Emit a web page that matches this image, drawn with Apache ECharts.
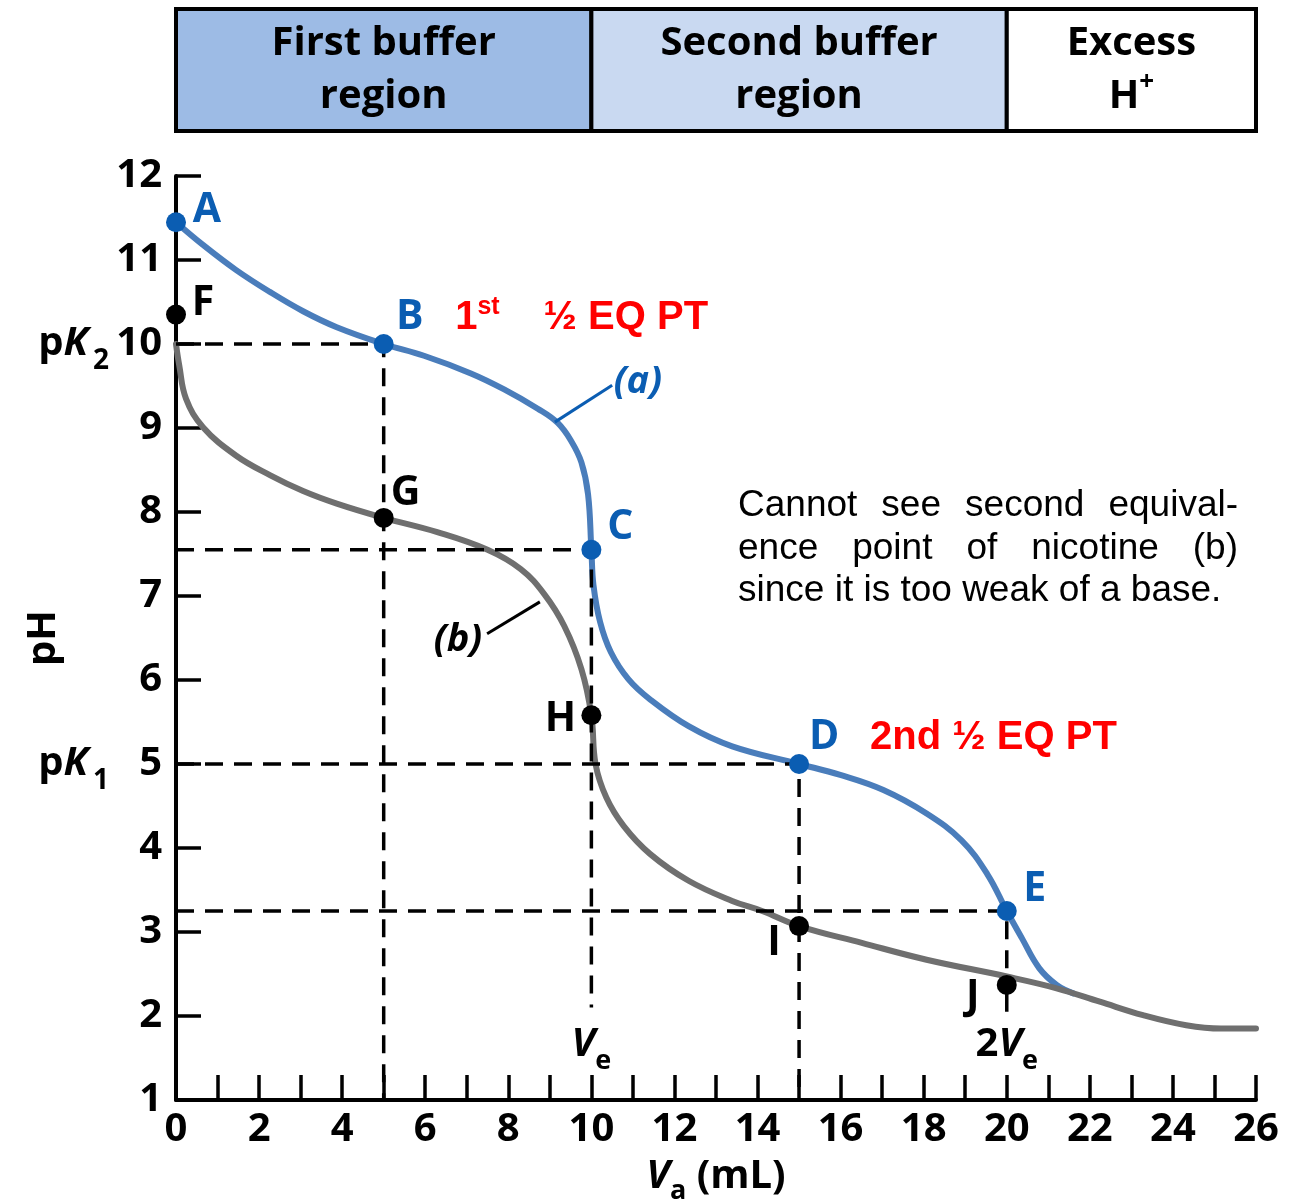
<!DOCTYPE html>
<html><head><meta charset="utf-8">
<script src="https://cdn.jsdelivr.net/npm/echarts@6/dist/echarts.min.js"></script>
<style>html,body{margin:0;padding:0;background:#fff}#c{width:1309px;height:1202px}</style>
</head><body><div id="c"></div>
<script>
// ---------------- DATA ----------------
// curve (a): blue
const volA = [0, 0.65, 1.45, 2.26, 3.06, 3.87, 5, 5.97, 7.1, 7.9, 8.71, 9.19, 9.52, 9.76, 9.92, 10, 10.05, 10.21, 10.47, 10.89, 11.41, 12.34, 13.39, 15, 15.99, 17.03, 18.07, 18.91, 19.53, 20, 20.36, 20.78, 21.2, 21.6];
const phA  = [11.45, 11.18, 10.88, 10.62, 10.39, 10.2, 10.0, 9.86, 9.65, 9.46, 9.23, 9.06, 8.84, 8.59, 8.21, 7.55, 7.13, 6.69, 6.33, 6.01, 5.77, 5.45, 5.21, 5.0, 4.87, 4.69, 4.41, 4.09, 3.69, 3.25, 2.93, 2.57, 2.37, 2.27];
// curve (b): gray (nicotine)
const volB = [0, 0.08, 0.24, 0.65, 1.45, 2.26, 3.06, 3.87, 5, 6.29, 7.5, 8.3, 8.87, 9.35, 9.76, 10, 10.1, 10.36, 10.78, 11.41, 12.34, 13.39, 14.11, 15, 16.51, 18.07, 20, 21.2, 22.24, 23.28, 24.32, 25.16, 26];
const phB  = [10.0, 9.74, 9.35, 9.01, 8.67, 8.44, 8.25, 8.1, 7.93, 7.76, 7.55, 7.32, 7.02, 6.64, 6.13, 5.58, 5.0, 4.6, 4.26, 3.93, 3.61, 3.37, 3.25, 3.07, 2.87, 2.67, 2.47, 2.33, 2.17, 2.01, 1.89, 1.85, 1.85];
// labelled points
const bluePointNames = ['A', 'B', 'C', 'D', 'E'];
const bluePointVol = [0, 5, 10, 15, 20];
const bluePointPh = [11.45, 10, 7.55, 5, 3.25];
const blackPointNames = ['F', 'G', 'H', 'I', 'J'];
const blackPointVol = [0, 5, 10, 15, 20];
const blackPointPh = [10.35, 7.93, 5.58, 3.07, 2.37];
// lower end of the vertical dashed guide dropped from each blue point B..E
const guideFrom = ['B', 'C', 'D', 'E'];
const guideBottom = [1, 2.1, 1, 2.37];
const stubTop = 2.37, stubBottom = 2.05;   // short solid tick under J at 2Ve
// ticks
const xTickLabels = [0, 2, 4, 6, 8, 10, 12, 14, 16, 18, 20, 22, 24, 26];
const yTickLabels = [1, 2, 3, 4, 5, 6, 7, 8, 9, 10, 11, 12];
// header regions
const regionStart = [0, 10, 20];
const regionEnd = [10, 20, 26];
const regionLabels = ['First buffer\nregion', 'Second buffer\nregion', 'Excess\n{t|H}{sup|+}'];
const regionColors = ['#9dbbe5', '#c9d9f1', '#ffffff'];
// annotation texts (data coordinates)
const annoText = ['{r|1}{sup|st}{r2|½ EQ PT}', '{r|2nd ½ EQ PT}', '{v|V}{sub|e}', '{n|2}{v|V}{sub|e}', '{a|(a)}', '{b|(b)}'];
const annoVol = [6.72, 16.71, 10, 20, 11.12, 6.79];
const annoPh = [10.31, 5.31, 1.66, 1.66, 9.54, 6.48];
const annoAlign = ['left', 'left', 'center', 'center', 'center', 'center'];
const leaderA = [[9.12, 9.07], [10.5, 9.51]];
const leaderB = [[8.76, 6.93], [7.49, 6.55]];
const noteLines = [['Cannot', 'see', 'second', 'equival-'], ['ence', 'point', 'of', 'nicotine', '(b)'], ['since it is too weak of a base.']];

// ---------------- STYLE ----------------
const FONT = '"Open Sans", "Noto Sans", sans-serif';
const ARIAL = '"Liberation Sans", Arial, sans-serif';
const BLUE_LINE = '#4a7dbb', BLUE_PT = '#0b5db2', GRAY = '#6f6f6f';
const labelOffset = {A: [31, -12], B: [26, -27], C: [29, -22], D: [25, -27], E: [28, -22],
                     F: [27, -11], G: [22, -25], H: [-31, 4], I: [-25, 17], J: [-34, 12]};

const chart = echarts.init(document.getElementById('c'), null, {renderer: 'canvas'});

function pointSeries(names, xs, ys, color) {
  return {
    type: 'scatter', z: 10, symbol: 'circle', symbolSize: 20,
    itemStyle: {color: color, opacity: 1},
    label: {show: true, position: 'inside', formatter: '{b}', color: color,
            fontFamily: FONT, fontWeight: 'bold', fontSize: 41, align: 'center', verticalAlign: 'middle'},
    data: names.map((n, i) => ({name: n, value: [xs[i], ys[i]], label: {offset: labelOffset[n]}}))
  };
}

const guideSeries = guideFrom.map((nm, i) => {
  const k = bluePointNames.indexOf(nm);
  const x = bluePointVol[k], y = bluePointPh[k];
  return {
    type: 'line', z: 4, symbol: 'none', silent: true,
    lineStyle: {color: '#000', width: 3.5, type: [18, 11]},
    data: [[0, y], [x, y], [x, guideBottom[i]]]
  };
});

const annoRich = {
  r: {color: '#ff0000', fontFamily: ARIAL, fontWeight: 'bold', fontSize: 40, lineHeight: 46},
  r2: {color: '#ff0000', fontFamily: ARIAL, fontWeight: 'bold', fontSize: 40, lineHeight: 46, padding: [0, 0, 0, 44]},
  sup: {color: '#ff0000', fontFamily: ARIAL, fontWeight: 'bold', fontSize: 25, lineHeight: 20, verticalAlign: 'top'},
  v: {color: '#000', fontFamily: FONT, fontWeight: 'bold', fontStyle: 'italic', fontSize: 40, lineHeight: 60},
  n: {color: '#000', fontFamily: FONT, fontWeight: 'bold', fontSize: 40, lineHeight: 60},
  sub: {color: '#000', fontFamily: FONT, fontWeight: 'bold', fontSize: 27, lineHeight: 14, verticalAlign: 'bottom'},
  a: {color: BLUE_PT, fontFamily: FONT, fontWeight: 'bold', fontStyle: 'italic', fontSize: 38},
  b: {color: '#000', fontFamily: FONT, fontWeight: 'bold', fontStyle: 'italic', fontSize: 38}
};

// note text (justified like the reference)
const cv = document.createElement('canvas').getContext('2d');
const NOTE_FONT = '37px "Liberation Sans", Arial, sans-serif';
cv.font = NOTE_FONT;
const NOTE_LEFT = 738, NOTE_WIDTH = 500, NOTE_Y = [506, 549, 591];
const noteGraphics = [];
noteLines.forEach((words, li) => {
  const widths = words.map(w => cv.measureText(w).width);
  const total = widths.reduce((a, b) => a + b, 0);
  const gap = words.length > 1 && li < 2 ? (NOTE_WIDTH - total) / (words.length - 1) : 0;
  let x = NOTE_LEFT;
  words.forEach((w, wi) => {
    noteGraphics.push({type: 'text', x: x, y: NOTE_Y[li], z: 20,
      style: {text: w, font: NOTE_FONT, fill: '#000', align: 'left', verticalAlign: 'middle'}});
    x += widths[wi] + gap;
  });
});

const option = {
  animation: false,
  backgroundColor: '#fff',
  grid: [
    {left: 176, right: 53, top: 176, bottom: 102, containLabel: false, outerBoundsMode: 'none'},
    {left: 176, right: 53, top: 9, height: 122, containLabel: false, outerBoundsMode: 'none'}
  ],
  xAxis: [
    {type: 'value', gridIndex: 0, min: 0, max: 26, interval: 1,
     name: '{v|V}{sub|a}{n| (mL)}', nameLocation: 'middle', nameGap: 49, nameMoveOverlap: false,
     nameTextStyle: {rich: {
       v: {fontFamily: FONT, fontWeight: 'bold', fontStyle: 'italic', fontSize: 40, color: '#000', lineHeight: 56},
       sub: {fontFamily: FONT, fontWeight: 'bold', fontSize: 27, color: '#000', lineHeight: 14, verticalAlign: 'bottom'},
       n: {fontFamily: FONT, fontWeight: 'bold', fontSize: 40, color: '#000', lineHeight: 56}}},
     axisLine: {lineStyle: {color: '#000', width: 4}},
     axisTick: {inside: true, length: 25, lineStyle: {color: '#000', width: 3.5}},
     axisLabel: {margin: 10, color: '#000', fontFamily: FONT, fontWeight: 'bold', fontSize: 40,
                 formatter: v => xTickLabels.indexOf(v) >= 0 ? String(v) : ''},
     splitLine: {show: false}},
    {type: 'value', gridIndex: 1, min: 0, max: 26, show: false}
  ],
  yAxis: [
    {type: 'value', gridIndex: 0, min: 1, max: 12, interval: 1,
     name: 'pH', nameLocation: 'middle', nameRotate: 90, nameGap: 112, nameMoveOverlap: false,
     nameTextStyle: {fontFamily: FONT, fontWeight: 'bold', fontSize: 40, color: '#000'},
     axisLine: {lineStyle: {color: '#000', width: 4}},
     axisTick: {inside: true, length: 25, lineStyle: {color: '#000', width: 3.5}},
     axisLabel: {margin: 14, color: '#000',
       formatter: v => {
         if (yTickLabels.indexOf(v) < 0) return '';
         if (v === 10) return '{p|p}{k|K}{s|2}{n|10}';
         if (v === 5) return '{p|p}{k|K}{s|1}{n|5}';
         return '{n|' + v + '}';
       },
       rich: {
         p: {fontFamily: FONT, fontWeight: 'bold', fontSize: 40, color: '#000', lineHeight: 62},
         k: {fontFamily: FONT, fontWeight: 'bold', fontStyle: 'italic', fontSize: 40, color: '#000', lineHeight: 62},
         s: {fontFamily: FONT, fontWeight: 'bold', fontSize: 28, color: '#000', lineHeight: 10, verticalAlign: 'bottom', width: 26, align: 'left'},
         n: {fontFamily: FONT, fontWeight: 'bold', fontSize: 40, color: '#000', lineHeight: 62, width: 48, align: 'right'}
       }},
     splitLine: {show: false}},
    {type: 'value', gridIndex: 1, min: 0, max: 1, show: false}
  ],
  graphic: noteGraphics,
  series: [
    {
      type: 'custom', xAxisIndex: 1, yAxisIndex: 1, clip: false, z: 1,
      data: regionStart.map((s, i) => [s, regionEnd[i]]),
      encode: {x: [0, 1]},
      renderItem: function (params, api) {
        const i = params.dataIndex;
        const p0 = api.coord([api.value(0), 1]);
        const p1 = api.coord([api.value(1), 0]);
        return {
          type: 'rect',
          shape: {x: p0[0], y: p0[1], width: p1[0] - p0[0], height: p1[1] - p0[1]},
          style: {fill: regionColors[i], stroke: '#000', lineWidth: 4},
          textContent: {
            style: {text: regionLabels[i], fontFamily: FONT, fontWeight: 'bold', fontSize: 40,
                    lineHeight: 53, fill: '#000', align: 'center', verticalAlign: 'middle',
                    rich: {
                      t: {fontFamily: FONT, fontWeight: 'bold', fontSize: 40, lineHeight: 53, fill: '#000'},
                      sup: {fontFamily: FONT, fontWeight: 'bold', fontSize: 26, lineHeight: 30, verticalAlign: 'top', fill: '#000'}
                    }}
          },
          textConfig: {position: 'inside'}
        };
      }
    },
    ...guideSeries,
    {type: 'line', z: 4, symbol: 'none', silent: true,
     lineStyle: {color: '#000', width: 3.5},
     data: [[blackPointVol[4], stubTop], [blackPointVol[4], stubBottom]]},
    {type: 'line', name: '(a)', z: 3, symbol: 'none', smooth: 0.4,
     lineStyle: {color: BLUE_LINE, width: 6, cap: 'round'},
     data: volA.map((v, i) => [v, phA[i]])},
    {type: 'line', name: '(b)', z: 3, symbol: 'none', smooth: 0.4,
     lineStyle: {color: GRAY, width: 6, cap: 'round'},
     data: volB.map((v, i) => [v, phB[i]])},
    {type: 'line', z: 5, symbol: 'none', lineStyle: {color: BLUE_PT, width: 3}, data: leaderA},
    {type: 'line', z: 5, symbol: 'none', lineStyle: {color: '#000', width: 3}, data: leaderB},
    pointSeries(bluePointNames, bluePointVol, bluePointPh, BLUE_PT),
    pointSeries(blackPointNames, blackPointVol, blackPointPh, '#000'),
    {
      type: 'scatter', z: 12, symbolSize: 0, itemStyle: {color: 'rgba(0,0,0,0)', opacity: 1}, silent: true,
      data: annoText.map((t, i) => ({
        value: [annoVol[i], annoPh[i]],
        label: {show: true, position: 'inside', formatter: t, rich: annoRich,
                align: annoAlign[i], verticalAlign: 'middle', opacity: 1}
      }))
    }
  ]
};
chart.setOption(option);
</script></body></html>
